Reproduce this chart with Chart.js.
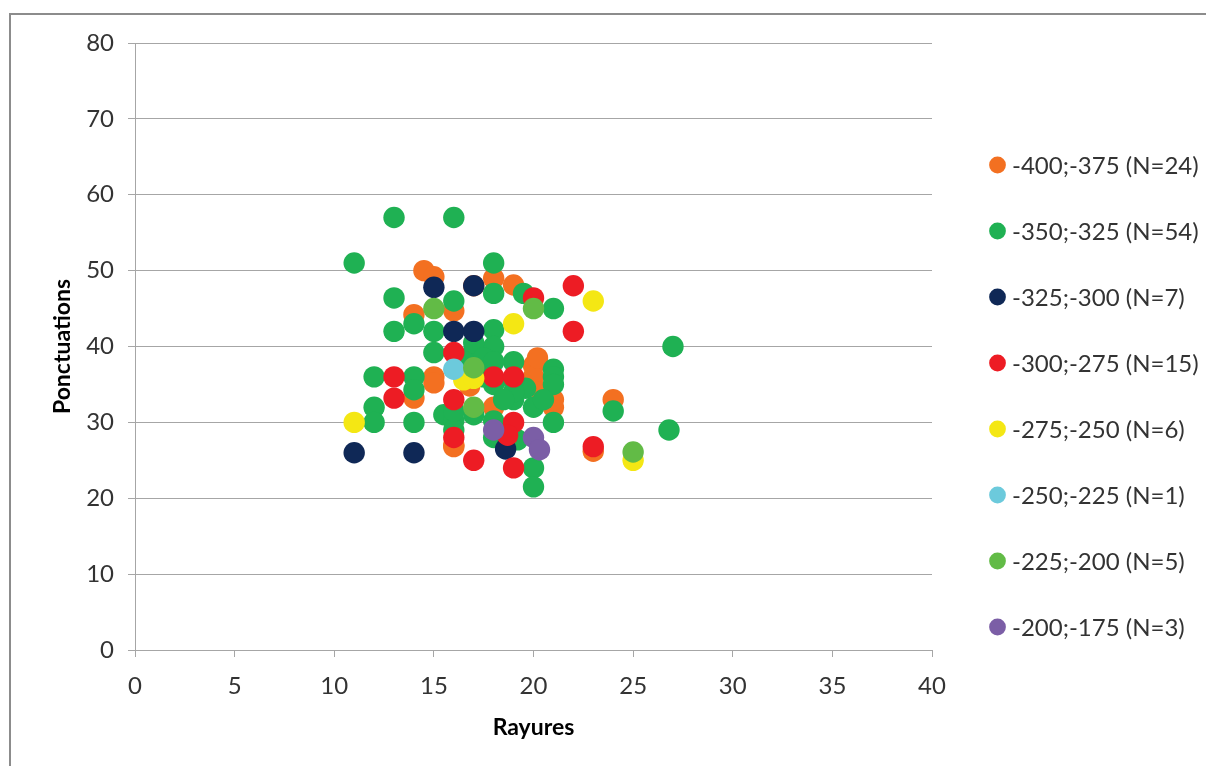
<!DOCTYPE html>
<html>
<head>
<meta charset="utf-8">
<script src="https://cdn.jsdelivr.net/npm/chart.js"></script>
<style>
  html, body { margin: 0; padding: 0; background: #fff; overflow: hidden; }
  #wrap { position: relative; width: 1206px; height: 766px; }
  #frame { position: absolute; left: 9px; top: 13px; width: 1400px; height: 1000px;
           border-left: 2px solid #8c8c8c; border-top: 2px solid #8c8c8c; }
  canvas { position: absolute; left: 0; top: 0; }
</style>
</head>
<body>
<div id="wrap">
  <div id="frame"></div>
  <canvas id="myChart" width="1206" height="766"></canvas>
</div>
<script>
  // series labels and colours (legend order)
  const seriesNames = ['-400;-375 (N=24)', '-350;-325 (N=54)', '-325;-300 (N=7)', '-300;-275 (N=15)',
                       '-275;-250 (N=6)', '-250;-225 (N=1)', '-225;-200 (N=5)', '-200;-175 (N=3)'];
  const seriesColors = ['#f37021', '#1fb153', '#0f2856', '#ed1c24', '#f4e714', '#6ccadc', '#62bb46', '#7b5ea6'];

  // [rayures, ponctuations]
  const s400 = [[14.5, 50], [15, 49.2], [16, 44.7], [14, 44.2], [18, 49], [19, 48.1], [15, 36], [15, 35.2],
                [14, 33.2], [16, 27], [20, 37.5], [20, 36], [20.4, 34], [21, 32], [18, 32], [24, 33],
                [23, 26.2], [16.8, 34.8], [20.2, 38.5], [21, 33], [17, 48], [18.6, 28.6], [16, 26.8], [19.5, 35]];
  const s350 = [[11, 51], [13, 57], [16, 57], [13, 46.4], [16, 46], [18, 51], [18, 47], [19.5, 47], [21, 45],
                [27, 40], [13, 42], [15, 42], [14, 43], [18, 42.2], [18, 40], [15, 39.2], [17, 39.5], [12, 36],
                [14, 36], [14, 34.3], [12, 32], [12, 30], [14, 30], [15.5, 31], [16, 30.2], [16, 29], [17, 38],
                [19, 38], [19.6, 34.5], [19, 33], [20, 32], [21, 37], [21, 36], [21, 35], [21, 30], [24, 31.5],
                [26.8, 29], [18, 30.2], [18, 28], [19.2, 27.7], [20, 24], [20, 21.5], [17.5, 36], [18, 35],
                [17, 40.5], [19, 35.5], [17.5, 38.5], [18, 38], [20.5, 33], [16, 31.5], [17, 31], [19, 34], [16.5, 38], [18.5, 33]];
  const s325 = [[15, 47.8], [17, 48], [16, 42], [17, 42], [11, 26], [14, 26], [18.6, 26.5]];
  const s300 = [[13, 36], [13, 33.2], [16, 39.2], [16, 33], [16, 28], [17, 25], [18, 36], [19, 36], [20, 46.4],
                [22, 48], [22, 42], [19, 30], [19, 24], [18.7, 28.3], [23, 26.8]];
  const s275 = [[11, 30], [19, 43], [23, 46], [16.5, 35.6], [17, 35.8], [25, 25]];
  const s250 = [[16, 37]];
  const s225 = [[15, 45], [20, 45], [17, 37.2], [17, 32], [25, 26.1]];
  const s200 = [[18, 29], [20, 28], [20.3, 26.4]];

  const allSeries = [s400, s350, s325, s300, s275, s250, s225, s200];

  const xTicksMax = 40, xStep = 5;
  const yTicksMax = 80, yStep = 10;

  const textColor = '#333333';
  const gridColor = '#a6a6a6';
  const fontFamily = 'Lato, "Open Sans", sans-serif';

  const datasets = allSeries.map((pts, i) => ({
    label: seriesNames[i],
    data: pts.map(p => ({ x: p[0], y: p[1] })),
    backgroundColor: seriesColors[i],
    borderWidth: 0,
    pointRadius: 10.7,
    pointHoverRadius: 10.7,
    order: allSeries.length - 1 - i   // later series drawn on top
  }));

  // legend on the right, drawn from the datasets
  const sideLegend = {
    id: 'sideLegend',
    afterDraw(chart) {
      const ctx = chart.ctx;
      ctx.save();
      ctx.font = '24px ' + fontFamily;
      ctx.textBaseline = 'middle';
      ctx.textAlign = 'left';
      chart.data.datasets.forEach((ds, i) => {
        const y = 165 + i * 66;
        ctx.beginPath();
        ctx.arc(997.5, y, 8.4, 0, Math.PI * 2);
        ctx.fillStyle = ds.backgroundColor;
        ctx.fill();
        ctx.fillStyle = textColor;
        ctx.fillText(ds.label, 1012, y + 1);
      });
      ctx.restore();
    }
  };

  const ctx = document.getElementById('myChart');

  new Chart(ctx, {
    type: 'scatter',
    data: { datasets: datasets },
    options: {
      responsive: false,
      animation: false,
      devicePixelRatio: 1,
      layout: { padding: { top: 43, right: 274, bottom: 0, left: 0 } },
      plugins: {
        legend: { display: false },
        tooltip: { enabled: false }
      },
      scales: {
        x: {
          type: 'linear',
          min: 0,
          max: xTicksMax,
          afterFit: (scale) => { scale.height = 116; },
          ticks: { stepSize: xStep, color: textColor, padding: 15, font: { family: fontFamily, size: 24 } },
          grid: { drawOnChartArea: false, drawTicks: true, tickLength: 7, color: gridColor },
          border: { color: gridColor },
          title: {
            display: true, text: 'Rayures', color: '#000',
            font: { family: fontFamily, size: 23, weight: 'bold' },
            padding: { top: 0, bottom: 25 }
          }
        },
        y: {
          min: 0,
          max: yTicksMax,
          afterFit: (scale) => { scale.width = 135; },
          ticks: { stepSize: yStep, color: textColor, padding: 14, font: { family: fontFamily, size: 24 } },
          grid: { color: gridColor, tickLength: 7 },
          border: { color: gridColor },
          title: {
            display: true, text: 'Ponctuations', color: '#000',
            font: { family: fontFamily, size: 23, weight: 'bold' },
            padding: { top: 49, bottom: 0 }
          }
        }
      }
    },
    plugins: [sideLegend]
  });
</script>
</body>
</html>
